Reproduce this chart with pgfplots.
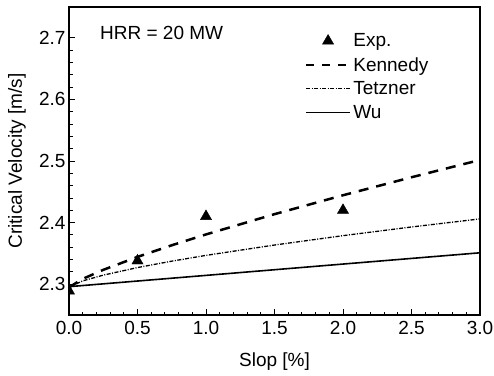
\documentclass[border=0pt]{standalone}
\usepackage{pgfplots}
\pgfplotsset{compat=1.18}
\usepackage{fontspec}
\setmainfont{Liberation Sans}
\pgfplotsset{
  lleg/.style={legend image code/.code={\draw[##1] (0pt,0pt) -- (44pt,0pt);}},
  kleg/.style={legend image code/.code={\draw[##1,dash pattern=on 8pt off 8pt] (0pt,0pt) -- (44pt,0pt);}},
  mleg/.style={legend image code/.code={\draw[##1] plot coordinates {(22pt,0pt)};}},
}
\newcommand{\bigf}{\fontsize{19}{22}\selectfont}
\begin{document}
\begin{tikzpicture}[x=1pt,y=1pt]
\begin{axis}[
  name=ax,
  scale only axis,
  width=411pt, height=308pt,
  xmin=0, xmax=3, ymin=2.25, ymax=2.75,
  xtick={0,0.5,...,3}, ytick={2.3,2.4,...,2.71},
  minor x tick num=4, minor y tick num=4,
  tick pos=left, tick align=inside,
  major tick length=6pt, minor tick length=3.5pt,
  every tick/.style={black, line width=0.9pt},
  axis line style={line width=1.4pt},
  /pgf/number format/assume math mode=true,
  /pgf/number format/.cd, fixed, fixed zerofill, precision=1, /pgfplots/.cd,
  ticklabel style={font=\bigf},
  xticklabel style={yshift=-3pt},
  label style={font=\bigf},
  xlabel={Slop [\%]}, ylabel={Critical Velocity [m/s]},
  xlabel style={at={(axis description cs:0.5,-0.1526)}, anchor=center},
  ylabel style={at={(axis description cs:-0.1265,0.5)}, anchor=center},
  clip marker paths=true,
  legend cell align=left,
  legend style={draw=none, fill=none, at={(0.566,0.927)}, anchor=north west,
    font=\bigf, row sep=5pt},
]
\addplot[only marks, mark=triangle*, mark size=6.5pt, black, mleg] coordinates {
(0,2.289) (0.5,2.338) (1.0,2.410) (2.0,2.420)};
\addlegendentry{Exp.}
\addplot[black, line width=2.5pt, dash pattern=on 10pt off 8pt, kleg] coordinates {
(0,2.295) (0.1,2.3086) (0.25,2.3233) (0.5,2.3443) (0.75,2.3632) (1,2.3808) (1.5,2.4137) (2,2.4444) (2.5,2.4736) (3,2.5017)};
\addlegendentry{Kennedy}
\addplot[black, line width=1.3pt, dash pattern=on 4pt off 1.5pt on 1pt off 1.5pt, lleg] coordinates {
(0,2.295) (0.1,2.3054) (0.25,2.3147) (0.5,2.327) (0.75,2.3374) (1,2.3468) (1.5,2.3636) (2,2.3788) (2.5,2.3929) (3,2.406)};
\addlegendentry{Tetzner}
\addplot[black, line width=1.6pt, lleg] coordinates {
(0,2.296) (1,2.3143) (2,2.3327) (3,2.351)};
\addlegendentry{Wu}
\node[anchor=west, inner sep=0pt, font=\bigf] at (axis description cs:0.0754,0.9156) {HRR = 20 MW};
\end{axis}
\pgfresetboundingbox
\path[use as bounding box] (ax.south west) ++(-69pt,-60pt) rectangle ++(494pt,375pt);
\end{tikzpicture}
\end{document}
